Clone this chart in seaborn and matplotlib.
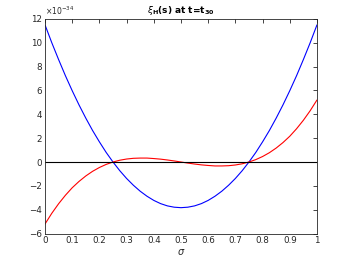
import matplotlib
matplotlib.use("Agg")
import matplotlib.pyplot as plt
import numpy as np
import pandas as pd
import seaborn as sns

# values (units of 1e-34)
sigma = [0.0, 0.025, 0.05, 0.075, 0.1, 0.125, 0.15, 0.175, 0.2, 0.225,
         0.25, 0.275, 0.3, 0.325, 0.35, 0.375, 0.4, 0.425, 0.45, 0.475,
         0.5, 0.525, 0.55, 0.575, 0.6, 0.625, 0.65, 0.675, 0.7, 0.725,
         0.75, 0.775, 0.8, 0.825, 0.85, 0.875, 0.9, 0.925, 0.95, 0.975, 1.0]
xi_blue = [11.5, 10.0, 8.59, 7.24, 5.98, 4.79, 3.68, 2.64, 1.69, 0.80,
           0.0, -0.73, -1.38, -1.95, -2.45, -2.87, -3.22, -3.49, -3.68, -3.79,
           -3.83, -3.79, -3.68, -3.49, -3.22, -2.87, -2.45, -1.95, -1.38, -0.73,
           0.0, 0.80, 1.69, 2.64, 3.68, 4.79, 5.98, 7.24, 8.59, 10.0, 11.5]
xi_red = [-5.20, -4.30, -3.50, -2.79, -2.16, -1.63, -1.17, -0.78, -0.46, -0.20,
          0.0, 0.15, 0.25, 0.31, 0.33, 0.33, 0.29, 0.24, 0.17, 0.09,
          0.0, -0.09, -0.17, -0.24, -0.29, -0.33, -0.33, -0.31, -0.25, -0.15,
          0.0, 0.20, 0.46, 0.78, 1.17, 1.63, 2.16, 2.79, 3.50, 4.30, 5.20]

x_ticks = [0, 0.1, 0.2, 0.3, 0.4, 0.5, 0.6, 0.7, 0.8, 0.9, 1]
x_labels = ["0", "0.1", "0.2", "0.3", "0.4", "0.5", "0.6", "0.7", "0.8", "0.9", "1"]
y_ticks = [-6, -4, -2, 0, 2, 4, 6, 8, 10, 12]

df = pd.DataFrame({"sigma": sigma, "blue": xi_blue, "red": xi_red})

sns.set_style("white")
plt.rcParams['font.family'] = ['DejaVu Sans']
grey = "#262626"

fig = plt.figure(figsize=(3.5, 2.63), dpi=100)
ax = fig.add_axes([0.1286, 0.112, 0.777, 0.816])

sns.lineplot(data=df, x="sigma", y="blue", color="blue", lw=0.8, ax=ax)
sns.lineplot(data=df, x="sigma", y="red", color="red", lw=0.8, ax=ax)
ax.axhline(0, color="black", lw=0.8)

ax.set_xlim(0, 1)
ax.set_ylim(-6, 12)
ax.set_xticks(x_ticks)
ax.set_xticklabels(x_labels)
ax.set_yticks(y_ticks)
ax.tick_params(direction="in", length=3, width=0.6, labelsize=6.3, colors=grey,
               top=True, right=True, pad=2)
for sp in ax.spines.values():
    sp.set_color(grey)
    sp.set_linewidth(0.6)

ax.set_xlabel(r"$\sigma$", fontsize=7, color=grey, labelpad=1)
ax.set_ylabel("")
ax.set_title(r"$\xi_{\mathbf{H}}$(s) at t=t$_{\mathbf{30}}$", fontsize=6.5,
             fontweight="bold", color="black", pad=4)
ax.text(0.0, 1.01, r"$\times10^{-34}$", transform=ax.transAxes, fontsize=5.5,
        color=grey, ha="left", va="bottom")

fig.savefig("out.png", dpi=100)
